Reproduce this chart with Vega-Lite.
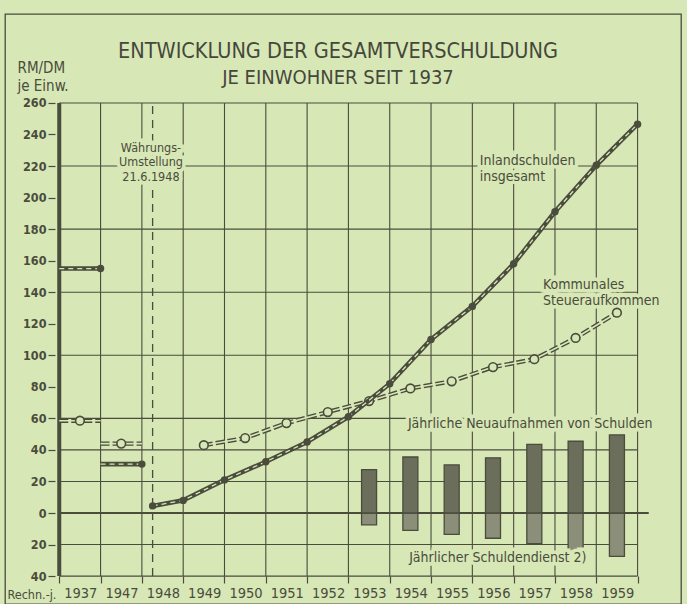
{
  "$schema": "https://vega.github.io/schema/vega-lite/v6.json",
  "width": 676,
  "height": 590,
  "autosize": {"type": "none"},
  "padding": {"left": 5, "top": 14, "right": 6, "bottom": 0},
  "background": "#d7e7b6",
  "config": {
    "view": {"stroke": "#4a4c3c", "strokeWidth": 1.3},
    "font": "DejaVu Sans Condensed, DejaVu Sans, sans-serif"
  },
  "title": {
    "text": "ENTWICKLUNG DER GESAMTVERSCHULDUNG",
    "subtitle": "JE EINWOHNER SEIT 1937",
    "anchor": "middle",
    "frame": "group",
    "orient": "top",
    "offset": -74,
    "dx": -5,
    "font": "DejaVu Sans Condensed, DejaVu Sans, sans-serif",
    "fontSize": 21.5,
    "fontWeight": "normal",
    "color": "#45473a",
    "subtitleFont": "DejaVu Sans Condensed, DejaVu Sans, sans-serif",
    "subtitleFontSize": 20,
    "subtitleColor": "#45473a",
    "subtitlePadding": 6
  },
  "datasets": {
    "gitterH": [{"v": 260}, {"v": 220}, {"v": 180}, {"v": 140}, {"v": 100}, {"v": 60}, {"v": 40}, {"v": 20}, {"v": -20}, {"v": -40}],
    "gitterV": [{"t": 1}, {"t": 2}, {"t": 3}, {"t": 4}, {"t": 5}, {"t": 6}, {"t": 7}, {"t": 8}, {"t": 9}, {"t": 10}, {"t": 11}, {"t": 12}, {"t": 13}, {"t": 14}],
    "nulllinie": [{"v": 0}],
    "achse": [{"t": 0}],
    "reform": [{"ereignis": "Währungsumstellung 21.6.1948", "t": 2.26}],
    "balken": [
      {"jahr": 1953, "t": 7.5, "neu": 27.5, "dienst": -7.5},
      {"jahr": 1954, "t": 8.5, "neu": 35.5, "dienst": -11},
      {"jahr": 1955, "t": 9.5, "neu": 30.5, "dienst": -13.5},
      {"jahr": 1956, "t": 10.5, "neu": 35, "dienst": -16},
      {"jahr": 1957, "t": 11.5, "neu": 43.5, "dienst": -19.5},
      {"jahr": 1958, "t": 12.5, "neu": 45.5, "dienst": -24.5},
      {"jahr": 1959, "t": 13.5, "neu": 49.5, "dienst": -27.5}
    ],
    "vorkrieg": [
      {"jahr": "1937", "t0": 0, "tm": 0.5, "t1": 1, "inland": 155, "kommunal": 58.5},
      {"jahr": "1947", "t0": 1, "tm": 1.5, "t1": 2, "inland": 31, "kommunal": 44}
    ],
    "inland": [
      {"t": 2.26, "v": 4.5}, {"t": 3, "v": 8}, {"t": 4, "v": 21}, {"t": 5, "v": 32.5},
      {"t": 6, "v": 45}, {"t": 7, "v": 61}, {"t": 8, "v": 82}, {"t": 9, "v": 110},
      {"t": 10, "v": 131}, {"t": 11, "v": 158}, {"t": 12, "v": 191}, {"t": 13, "v": 220.5}, {"t": 14, "v": 246.5}
    ],
    "kommunal": [
      {"jahr": 1949, "t": 3.5, "v": 43}, {"jahr": 1950, "t": 4.5, "v": 47.5}, {"jahr": 1951, "t": 5.5, "v": 57},
      {"jahr": 1952, "t": 6.5, "v": 64}, {"jahr": 1953, "t": 7.5, "v": 71}, {"jahr": 1954, "t": 8.5, "v": 79},
      {"jahr": 1955, "t": 9.5, "v": 83.5}, {"jahr": 1956, "t": 10.5, "v": 92.5}, {"jahr": 1957, "t": 11.5, "v": 97.5},
      {"jahr": 1958, "t": 12.5, "v": 111}, {"jahr": 1959, "t": 13.5, "v": 127}
    ],
    "textMitte": [{"text": "Währungs-\nUmstellung\n21.6.1948", "t": 2.22, "v": 235.5}],
    "textLinks": [
      {"text": "Inlandschulden\ninsgesamt", "t": 10.18, "v": 227.5},
      {"text": "Kommunales\nSteueraufkommen", "t": 11.71, "v": 149},
      {"text": "Jährliche Neuaufnahmen von Schulden", "t": 8.44, "v": 61},
      {"text": "Jährlicher Schuldendienst 2)", "t": 8.47, "v": -24}
    ]
  },
  "layer": [
    {
      "data": {"name": "gitterH"},
      "mark": {"type": "rule", "color": "#4a4c3c", "strokeWidth": 1.1},
      "encoding": {
        "x": {
          "datum": 0, "type": "quantitative",
          "scale": {"domain": [-1.1925, 14.93], "nice": false, "zero": false},
          "axis": {
            "orient": "bottom", "offset": -28,
            "values": [0, 1, 2, 3, 4, 5, 6, 7, 8, 9, 10, 11, 12, 13, 14],
            "tickCount": 30,
            "labelExpr": "['1937','1947','1948','1949','1950','1951','1952','1953','1954','1955','1956','1957','1958','1959',''][datum.value]",
            "labelOffset": 21, "labelFont": "DejaVu Sans Condensed, DejaVu Sans, sans-serif",
            "labelFontSize": 14.5, "labelColor": "#4a4c3c", "labelPadding": 3, "labelBaseline": "top",
            "labelFlush": false, "labelOverlap": false,
            "tickSize": 7, "tickColor": "#4a4c3c", "tickWidth": 1.2,
            "domain": false, "grid": false,
            "title": "Rechn.-j.", "titleX": 2, "titleY": 22, "titleAlign": "left", "titleBaseline": "alphabetic",
            "titleFont": "DejaVu Sans Condensed, DejaVu Sans, sans-serif",
            "titleFontSize": 12.5, "titleFontWeight": "normal", "titleColor": "#4a4c3c"
          }
        },
        "x2": {"datum": 14},
        "y": {
          "field": "v", "type": "quantitative",
          "scale": {"domain": [-57.7, 316.4], "nice": false, "zero": false},
          "axis": {
            "orient": "left", "offset": -50,
            "values": [-40, -20, 0, 20, 40, 60, 80, 100, 120, 140, 160, 180, 200, 220, 240, 260],
            "tickCount": 40,
            "labelExpr": "abs(datum.value)",
            "labelFont": "DejaVu Sans Condensed, DejaVu Sans, sans-serif",
            "labelFontSize": 12.5, "labelFontWeight": "bold", "labelColor": "#4a4c3c", "labelPadding": 2,
            "labelFlush": false, "labelOverlap": false,
            "tickSize": 7, "tickColor": "#4a4c3c", "tickWidth": 1.2,
            "domain": false, "grid": false,
            "title": ["RM/DM", "je Einw."], "titleAngle": 0, "titleAlign": "left", "titleBaseline": "alphabetic",
            "titleX": -38, "titleY": 58, "titleLineHeight": 18,
            "titleFont": "DejaVu Sans Condensed, DejaVu Sans, sans-serif",
            "titleFontSize": 15, "titleFontWeight": "normal", "titleColor": "#4a4c3c"
          }
        }
      }
    },
    {
      "data": {"name": "gitterV"},
      "mark": {"type": "rule", "color": "#4a4c3c", "strokeWidth": 1.1},
      "encoding": {
        "x": {"field": "t", "type": "quantitative"},
        "y": {"datum": -40},
        "y2": {"datum": 260}
      }
    },
    {
      "data": {"name": "nulllinie"},
      "mark": {"type": "rule", "color": "#4a4c3c", "strokeWidth": 2.2},
      "encoding": {
        "y": {"field": "v", "type": "quantitative"},
        "x": {"datum": 0},
        "x2": {"datum": 14.27}
      }
    },
    {
      "data": {"name": "achse"},
      "mark": {"type": "rule", "color": "#4a4c3c", "strokeWidth": 4},
      "encoding": {
        "x": {"field": "t", "type": "quantitative"},
        "y": {"datum": -40},
        "y2": {"datum": 260}
      }
    },
    {
      "data": {"name": "reform"},
      "mark": {"type": "rule", "color": "#4a4c3c", "strokeWidth": 1.3, "strokeDash": [8, 6]},
      "encoding": {
        "x": {"field": "t", "type": "quantitative"},
        "y": {"datum": -40},
        "y2": {"datum": 260}
      }
    },
    {
      "data": {"name": "balken"},
      "mark": {"type": "bar", "width": 15, "fill": "#8b8e78", "stroke": "#4a4c3c", "strokeWidth": 1.3},
      "encoding": {
        "x": {"field": "t", "type": "quantitative"},
        "y": {"field": "dienst", "type": "quantitative"},
        "y2": {"datum": 0}
      }
    },
    {
      "data": {"name": "balken"},
      "mark": {"type": "bar", "width": 15, "fill": "#6b6e5b", "stroke": "#4a4c3c", "strokeWidth": 1.3},
      "encoding": {
        "x": {"field": "t", "type": "quantitative"},
        "y": {"field": "neu", "type": "quantitative"},
        "y2": {"datum": 0}
      }
    },
    {
      "data": {"name": "textMitte"},
      "mark": {"type": "text", "align": "center", "baseline": "top", "lineBreak": "\n", "lineHeight": 14.5, "fontSize": 12.5, "fill": "#d7e7b6", "stroke": "#d7e7b6", "strokeWidth": 7},
      "encoding": {
        "x": {"field": "t", "type": "quantitative"},
        "y": {"field": "v", "type": "quantitative"},
        "text": {"field": "text"}
      }
    },
    {
      "data": {"name": "textMitte"},
      "mark": {"type": "text", "align": "center", "baseline": "top", "lineBreak": "\n", "lineHeight": 14.5, "fontSize": 12.5, "fill": "#4a4c3c"},
      "encoding": {
        "x": {"field": "t", "type": "quantitative"},
        "y": {"field": "v", "type": "quantitative"},
        "text": {"field": "text"}
      }
    },
    {
      "data": {"name": "textLinks"},
      "mark": {"type": "text", "align": "left", "baseline": "top", "lineBreak": "\n", "lineHeight": 16, "fontSize": 14, "fill": "#d7e7b6", "stroke": "#d7e7b6", "strokeWidth": 7},
      "encoding": {
        "x": {"field": "t", "type": "quantitative"},
        "y": {"field": "v", "type": "quantitative"},
        "text": {"field": "text"}
      }
    },
    {
      "data": {"name": "textLinks"},
      "mark": {"type": "text", "align": "left", "baseline": "top", "lineBreak": "\n", "lineHeight": 16, "fontSize": 14, "fill": "#4a4c3c"},
      "encoding": {
        "x": {"field": "t", "type": "quantitative"},
        "y": {"field": "v", "type": "quantitative"},
        "text": {"field": "text"}
      }
    },
    {
      "data": {"name": "vorkrieg"},
      "mark": {"type": "rule", "color": "#4a4c3c", "strokeWidth": 4.4, "strokeDash": [9, 3]},
      "encoding": {
        "x": {"field": "t0", "type": "quantitative"},
        "x2": {"field": "t1"},
        "y": {"field": "kommunal", "type": "quantitative"}
      }
    },
    {
      "data": {"name": "vorkrieg"},
      "mark": {"type": "rule", "color": "#d7e7b6", "strokeWidth": 1.6},
      "encoding": {
        "x": {"field": "t0", "type": "quantitative"},
        "x2": {"field": "t1"},
        "y": {"field": "kommunal", "type": "quantitative"}
      }
    },
    {
      "data": {"name": "kommunal"},
      "mark": {"type": "line", "color": "#4a4c3c", "strokeWidth": 4.4, "strokeDash": [9, 3]},
      "encoding": {
        "x": {"field": "t", "type": "quantitative"},
        "y": {"field": "v", "type": "quantitative"}
      }
    },
    {
      "data": {"name": "kommunal"},
      "mark": {"type": "line", "color": "#d7e7b6", "strokeWidth": 1.6},
      "encoding": {
        "x": {"field": "t", "type": "quantitative"},
        "y": {"field": "v", "type": "quantitative"}
      }
    },
    {
      "data": {"name": "vorkrieg"},
      "mark": {"type": "point", "shape": "circle", "size": 75, "filled": true, "fill": "#d7e7b6", "stroke": "#4a4c3c", "strokeWidth": 1.6, "opacity": 1},
      "encoding": {
        "x": {"field": "tm", "type": "quantitative"},
        "y": {"field": "kommunal", "type": "quantitative"}
      }
    },
    {
      "data": {"name": "kommunal"},
      "mark": {"type": "point", "shape": "circle", "size": 75, "filled": true, "fill": "#d7e7b6", "stroke": "#4a4c3c", "strokeWidth": 1.6, "opacity": 1},
      "encoding": {
        "x": {"field": "t", "type": "quantitative"},
        "y": {"field": "v", "type": "quantitative"}
      }
    },
    {
      "data": {"name": "vorkrieg"},
      "mark": {"type": "rule", "color": "#4a4c3c", "strokeWidth": 4.6},
      "encoding": {
        "x": {"field": "t0", "type": "quantitative"},
        "x2": {"field": "t1"},
        "y": {"field": "inland", "type": "quantitative"}
      }
    },
    {
      "data": {"name": "vorkrieg"},
      "mark": {"type": "rule", "color": "#d7e7b6", "strokeWidth": 1.3, "strokeDash": [5, 4]},
      "encoding": {
        "x": {"field": "t0", "type": "quantitative"},
        "x2": {"field": "t1"},
        "y": {"field": "inland", "type": "quantitative"}
      }
    },
    {
      "data": {"name": "inland"},
      "mark": {"type": "line", "color": "#4a4c3c", "strokeWidth": 4.6},
      "encoding": {
        "x": {"field": "t", "type": "quantitative"},
        "y": {"field": "v", "type": "quantitative"}
      }
    },
    {
      "data": {"name": "inland"},
      "mark": {"type": "line", "color": "#d7e7b6", "strokeWidth": 1.3, "strokeDash": [5, 4]},
      "encoding": {
        "x": {"field": "t", "type": "quantitative"},
        "y": {"field": "v", "type": "quantitative"}
      }
    },
    {
      "data": {"name": "vorkrieg"},
      "mark": {"type": "point", "shape": "circle", "size": 55, "filled": true, "fill": "#4a4c3c", "opacity": 1},
      "encoding": {
        "x": {"field": "t1", "type": "quantitative"},
        "y": {"field": "inland", "type": "quantitative"}
      }
    },
    {
      "data": {"name": "inland"},
      "mark": {"type": "point", "shape": "circle", "size": 55, "filled": true, "fill": "#4a4c3c", "opacity": 1},
      "encoding": {
        "x": {"field": "t", "type": "quantitative"},
        "y": {"field": "v", "type": "quantitative"}
      }
    }
  ]
}
